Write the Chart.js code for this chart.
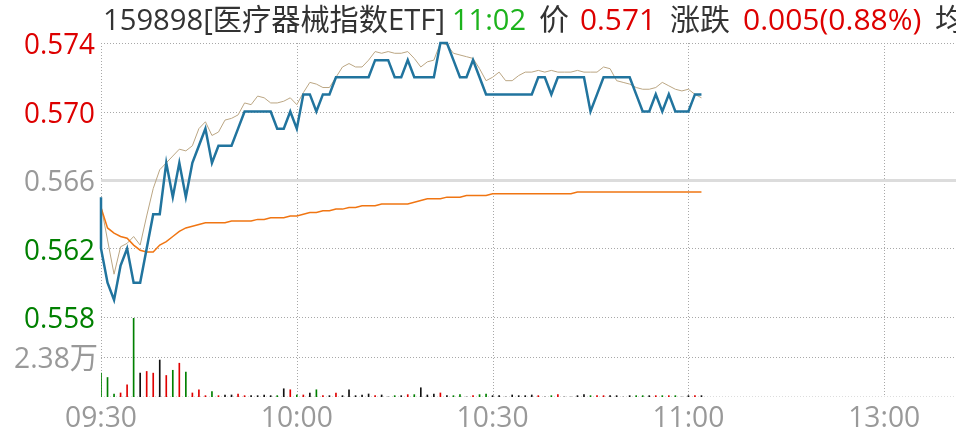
<!DOCTYPE html>
<html>
<head>
<meta charset="utf-8">
<script src="https://cdn.jsdelivr.net/npm/chart.js@4"></script>
<style>
  html, body { margin: 0; padding: 0; background: #fff; }
</style>
</head>
<body>
<canvas id="minuteChart" width="956" height="440"></canvas>
<script>
// quote header
const quoteName = '159898[医疗器械指数ETF]';
const quoteTime = '11:02';
const quotePrice = '0.571';
const quoteChange = '0.005(0.88%)';

const prevClose = 0.566;
const openPrice = 0.565;

// one value per minute from 09:30 (index = minutes since open)
const prices = [
  0.562, 0.560, 0.559, 0.561, 0.562, 0.560, 0.560, 0.562, 0.564, 0.564,
  0.567, 0.565, 0.567, 0.565, 0.567, 0.568, 0.569, 0.567, 0.568, 0.568,
  0.568, 0.569, 0.570, 0.570, 0.570, 0.570, 0.570, 0.569, 0.569, 0.570,
  0.569, 0.571, 0.571, 0.570, 0.571, 0.571, 0.572, 0.572, 0.572, 0.572,
  0.572, 0.572, 0.573, 0.573, 0.573, 0.572, 0.572, 0.573, 0.572, 0.572,
  0.572, 0.572, 0.574, 0.574, 0.573, 0.572, 0.572, 0.573, 0.572, 0.571,
  0.571, 0.571, 0.571, 0.571, 0.571, 0.571, 0.571, 0.572, 0.572, 0.571,
  0.572, 0.572, 0.572, 0.572, 0.572, 0.570, 0.571, 0.572, 0.572, 0.572,
  0.572, 0.572, 0.571, 0.570, 0.570, 0.571, 0.570, 0.571, 0.570, 0.570,
  0.570, 0.571, 0.571
];

// index overlay (drawn on the price scale)
const indexLine = [
  0.5645, 0.5625, 0.5605, 0.5621, 0.5623, 0.5627, 0.5622, 0.5639, 0.5655, 0.5666,
  0.5670, 0.5674, 0.5678, 0.5677, 0.5680, 0.5690, 0.5694, 0.5686, 0.5688, 0.5695,
  0.5696, 0.5698, 0.5705, 0.5704, 0.5709, 0.5708, 0.5705, 0.5705, 0.5706, 0.5708,
  0.5704, 0.5711, 0.5717, 0.5716, 0.5714, 0.5714, 0.5720, 0.5726, 0.5728, 0.5726,
  0.5726, 0.5730, 0.5735, 0.5734, 0.5735, 0.5734, 0.5734, 0.5735, 0.5731, 0.5726,
  0.5729, 0.5730, 0.5740, 0.5739, 0.5734, 0.5733, 0.5732, 0.5731, 0.5725, 0.5718,
  0.5720, 0.5723, 0.5718, 0.5718, 0.5721, 0.5723, 0.5723, 0.5724, 0.5723, 0.5724,
  0.5723, 0.5723, 0.5723, 0.5724, 0.5723, 0.5723, 0.5723, 0.5726, 0.5725, 0.5718,
  0.5717, 0.5716, 0.5714, 0.5713, 0.5713, 0.5714, 0.5717, 0.5715, 0.5713, 0.5712,
  0.5713, 0.5710, 0.5708
];

const avgPrices = [
  0.5644, 0.5632, 0.5629, 0.5627, 0.5626, 0.5622, 0.5619, 0.5618, 0.5618, 0.5622,
  0.5624, 0.5627, 0.5630, 0.5632, 0.5633, 0.5634, 0.5635, 0.5635, 0.5635, 0.5635,
  0.5636, 0.5636, 0.5636, 0.5636, 0.5637, 0.5637, 0.5638, 0.5638, 0.5638, 0.5639,
  0.5639, 0.5640, 0.5641, 0.5641, 0.5642, 0.5642, 0.5643, 0.5643, 0.5644, 0.5644,
  0.5645, 0.5645, 0.5645, 0.5646, 0.5646, 0.5646, 0.5646, 0.5646, 0.5647, 0.5648,
  0.5649, 0.5649, 0.5649, 0.5650, 0.5650, 0.5650, 0.5651, 0.5651, 0.5651, 0.5651,
  0.5652, 0.5652, 0.5652, 0.5652, 0.5652, 0.5652, 0.5652, 0.5652, 0.5652, 0.5652,
  0.5652, 0.5652, 0.5652, 0.5653, 0.5653, 0.5653, 0.5653, 0.5653, 0.5653, 0.5653,
  0.5653, 0.5653, 0.5653, 0.5653, 0.5653, 0.5653, 0.5653, 0.5653, 0.5653, 0.5653,
  0.5653, 0.5653, 0.5653
];

const volumes = [
  14200, 11600, 1800, 2400, 7300, 46800, 14200, 15200, 14200, 22000,
  12800, 15900, 20100, 14800, 2400, 4300, 800, 3200, 800, 1200,
  1200, 1800, 800, 800, 800, 1200, 800, 800, 4900, 4300,
  1200, 1200, 2400, 4300, 800, 800, 2400, 800, 4300, 800,
  1200, 1800, 800, 1200, 0, 800, 800, 1400, 1400, 5500,
  1200, 1800, 2400, 800, 800, 1400, 0, 800, 1400, 1800,
  800, 800, 0, 1200, 800, 800, 1200, 800, 0, 800,
  1400, 0, 0, 800, 1400, 800, 800, 800, 800, 800,
  0, 800, 800, 800, 800, 800, 800, 800, 800, 0,
  800, 800, 800
];

// u = up, d = down, f = flat
const volDirs = [
  'd','d','d','u','u','d','f','u','u','f',
  'u','d','u','d','u','u','u','d','u','f',
  'f','u','u','f','f','f','f','d','f','u',
  'd','u','f','d','u','f','u','f','f','f',
  'f','f','u','f','f','d','f','u','d','f',
  'f','f','u','f','d','d','f','u','d','d',
  'f','f','f','f','f','f','f','u','f','d',
  'u','f','f','f','f','d','u','u','f','f',
  'f','f','d','d','f','u','d','u','d','f',
  'f','u','f'
];

const xTickMinutes = [0, 30, 60, 90, 120];
const xTickLabels = ['09:30', '10:00', '10:30', '11:00', '13:00'];
const priceTicks = [0.574, 0.570, 0.566, 0.562, 0.558];
const volTick = 23800;
const volTickLabel = '2.38万';
const volTop = 47600;

const RED = '#dd0000';
const GREEN = '#008000';
const GRAY = '#999999';
const DARK = '#333333';
const FONT = "30px 'Open Sans', 'Noto Sans CJK SC', sans-serif";

const dirColor = { u: '#e00000', d: '#008000', f: '#111111' };

function toPoints(arr) {
  return arr.map((v, i) => ({ x: i, y: v }));
}

// price axis: 0.574 at top, 0.558 at 274px down, volume panel below it
const pxPerPrice = 274 / 0.016;
const priceMin = 0.574 - 354 / pxPerPrice;
const volMax = volTop * 354 / 80;

const gridPlugin = {
  id: 'grid',
  beforeDatasetsDraw(chart) {
    const { ctx, chartArea, scales } = chart;
    const yP = scales.y, yV = scales.yVol, x = scales.x;
    ctx.save();
    ctx.lineWidth = 1;
    ctx.strokeStyle = '#a8a8a8';
    ctx.setLineDash([1, 2]);
    priceTicks.forEach(p => {
      if (p === prevClose) return;
      const y = Math.round(yP.getPixelForValue(p)) + 0.5;
      ctx.beginPath(); ctx.moveTo(chartArea.left, y); ctx.lineTo(chartArea.right, y); ctx.stroke();
    });
    const vy = Math.round(yV.getPixelForValue(volTick)) + 0.5;
    ctx.beginPath(); ctx.moveTo(chartArea.left, vy); ctx.lineTo(chartArea.right, vy); ctx.stroke();
    xTickMinutes.forEach(m => {
      const px = Math.round(x.getPixelForValue(m)) + 0.5;
      ctx.beginPath(); ctx.moveTo(px, chartArea.top); ctx.lineTo(px, chartArea.bottom); ctx.stroke();
    });
    ctx.strokeStyle = '#dddddd';
    const by = Math.round(yV.getPixelForValue(0)) - 0.5;
    ctx.beginPath(); ctx.moveTo(chartArea.left, by); ctx.lineTo(chartArea.right, by); ctx.stroke();
    // previous close
    ctx.setLineDash([]);
    ctx.lineWidth = 3;
    ctx.strokeStyle = '#dcdcdc';
    const cy = Math.round(yP.getPixelForValue(prevClose)) + 0.5;
    ctx.beginPath(); ctx.moveTo(chartArea.left, cy); ctx.lineTo(chartArea.right, cy); ctx.stroke();
    ctx.restore();
  }
};

const labelPlugin = {
  id: 'labels',
  afterDraw(chart) {
    const { ctx, scales } = chart;
    ctx.save();
    ctx.font = FONT;
    ctx.textBaseline = 'alphabetic';

    ctx.textAlign = 'right';
    priceTicks.forEach(p => {
      ctx.fillStyle = p > prevClose ? RED : (p < prevClose ? GREEN : GRAY);
      ctx.fillText(p.toFixed(3), 95, scales.y.getPixelForValue(p) + 11, 71);
    });
    ctx.fillStyle = GRAY;
    ctx.fillText(volTickLabel, 98, scales.yVol.getPixelForValue(volTick) + 11, 84);

    ctx.textAlign = 'center';
    xTickMinutes.forEach((m, i) => {
      ctx.fillText(xTickLabels[i], scales.x.getPixelForValue(m), 427, 72);
    });

    ctx.textAlign = 'left';
    const parts = [
      [quoteName, 103, DARK, 342],
      [quoteTime, 452, '#1cb31c', 74],
      ['价', 539, DARK, 32],
      [quotePrice, 580, RED, 76],
      ['涨跌', 670, DARK, 60],
      [quoteChange, 743, RED, 180],
      ['均价', 935, DARK, 60]
    ];
    parts.forEach(([t, x, c, w]) => {
      ctx.fillStyle = c;
      ctx.fillText(t, x, 30, w);
    });
    ctx.restore();
  }
};

const ctx = document.getElementById('minuteChart').getContext('2d');
new Chart(ctx, {
  type: 'line',
  data: {
    datasets: [
      {
        type: 'bar',
        data: toPoints(volumes),
        yAxisID: 'yVol',
        backgroundColor: volDirs.map(d => dirColor[d]),
        barThickness: 1,
        order: 4
      },
      {
        data: toPoints(indexLine),
        yAxisID: 'y',
        borderColor: '#bba683',
        borderWidth: 1,
        pointRadius: 0,
        clip: 4,
        order: 3
      },
      {
        data: toPoints(avgPrices),
        yAxisID: 'y',
        borderColor: '#f07512',
        borderWidth: 1.5,
        pointRadius: 0,
        order: 2
      },
      {
        data: [{ x: 0, y: openPrice }].concat(toPoints(prices)),
        yAxisID: 'y',
        borderColor: '#21749e',
        borderWidth: 2.5,
        pointRadius: 0,
        clip: 4,
        order: 1
      }
    ]
  },
  options: {
    responsive: false,
    animation: false,
    events: [],
    layout: { padding: { left: 101, right: 0, top: 43, bottom: 43 } },
    plugins: {
      legend: { display: false },
      tooltip: { enabled: false }
    },
    scales: {
      x: { type: 'linear', min: 0, max: 131, display: false, offset: false },
      y: { min: priceMin, max: 0.574, display: false },
      yVol: { min: 0, max: volMax, display: false }
    }
  },
  plugins: [gridPlugin, labelPlugin]
});
</script>
</body>
</html>
